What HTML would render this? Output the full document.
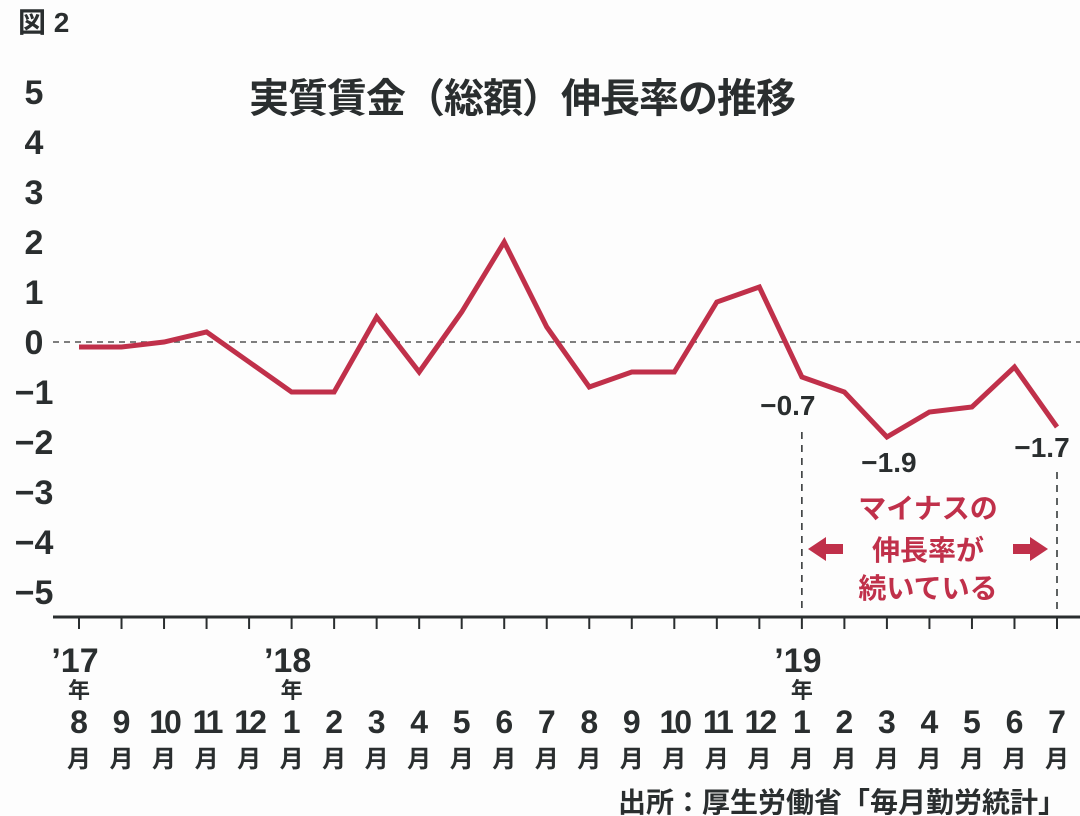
<!DOCTYPE html>
<html><head><meta charset="utf-8"><style>
html,body{margin:0;padding:0;background:#fdfdfd;}
svg{display:block;font-family:"Liberation Sans","Noto Sans CJK JP",sans-serif;font-weight:bold;}
</style></head><body>
<svg id="chart" width="1080" height="816" viewBox="0 0 1080 816">
<text x="18" y="32" font-size="28" fill="#2a2e2f">図 2</text>
<text x="522" y="112" font-size="40" fill="#2a2e2f" text-anchor="middle" letter-spacing="-1">実質賃金（総額）伸長率の推移</text>
<g id="yaxis"></g>
<line x1="53" y1="617" x2="1080" y2="617" stroke="#2a2e2f" stroke-width="3"/>
<line x1="53" y1="342" x2="1080" y2="342" stroke="#555" stroke-width="1.5" stroke-dasharray="6,5"/>
<g id="xaxis"></g>
<g id="marks"></g>
<g>
<text x="928" y="518" font-size="28" fill="#c0304a" text-anchor="middle">マイナスの</text>
<text x="928" y="560" font-size="28" fill="#c0304a" text-anchor="middle">伸長率が</text>
<text x="928" y="598" font-size="28" fill="#c0304a" text-anchor="middle">続いている</text>
<polygon points="808,549 826,537 826,544 843,544 843,554 826,554 826,561" fill="#c0304a"/>
<polygon points="1048,549 1030,537 1030,544 1013,544 1013,554 1030,554 1030,561" fill="#c0304a"/>
</g>
<text x="1066" y="812" font-size="28" fill="#2a2e2f" text-anchor="end">出所：厚生労働省「毎月勤労統計」</text>
</svg>
<script>
const months=["8","9","10","11","12","1","2","3","4","5","6","7","8","9","10","11","12","1","2","3","4","5","6","7"];
const yearLabels=[[0,"’17"],[5,"’18"],[17,"’19"]];
const values=[-0.1,-0.1,0.0,0.2,-0.4,-1.0,-1.0,0.5,-0.6,0.6,2.0,0.3,-0.9,-0.6,-0.6,0.8,1.1,-0.7,-1.0,-1.9,-1.4,-1.3,-0.5,-1.7];
const yTicks=[5,4,3,2,1,0,-1,-2,-3,-4,-5];
const labeled=[[17,"−0.7"],[19,"−1.9"],[23,"−1.7"]];
const NS="http://www.w3.org/2000/svg";
const x=i=>79+i*(1057-79)/23;
const y=v=>342-v*50;
function mk(tag,attrs,parent,text){const e=document.createElementNS(NS,tag);for(const k in attrs)e.setAttribute(k,attrs[k]);if(text!=null)e.textContent=text;parent.appendChild(e);return e;}
const ya=document.getElementById('yaxis'),xa=document.getElementById('xaxis'),mg=document.getElementById('marks');
yTicks.forEach(t=>{const e=mk('text',{x:34,y:y(t)+12,'font-size':34,fill:'#2a2e2f','text-anchor':'middle'},ya,t<0?'−'+(-t):String(t));

});
months.forEach((m,i)=>{const l=mk('line',{x1:x(i),y1:617,x2:x(i),y2:629,stroke:'#2a2e2f','stroke-width':2},xa);


const t=mk('text',{x:x(i),y:733,'font-size':32,fill:'#2a2e2f','text-anchor':'middle','letter-spacing':m.length>1?'-3':'0'},xa,m);


const u=mk('text',{x:x(i),y:767,'font-size':24,fill:'#2a2e2f','text-anchor':'middle'},xa,'月');

});
yearLabels.forEach(([i,s])=>{const t=mk('text',{x:x(i)-4,y:672,'font-size':34,fill:'#2a2e2f','text-anchor':'middle'},xa,s);


const n=mk('text',{x:x(i),y:698,'font-size':22,fill:'#2a2e2f','text-anchor':'middle'},xa,'年');

});
[[17,432],[23,472]].forEach(([i,top])=>{const d=mk('line',{x1:x(i),y1:top,x2:x(i),y2:612,stroke:'#2a2e2f','stroke-width':1.5,'stroke-dasharray':'7,6'},mg);

});
const p=mk('polyline',{points:values.map((v,i)=>x(i)+','+y(v)).join(' '),fill:'none',stroke:'#c0304a','stroke-width':5,'stroke-linejoin':'miter'},mg);


const offs={17:[-14,38],19:[2,35],23:[-15,30]};
labeled.forEach(([i,s])=>{const [dx,dy]=offs[i];
const t=mk('text',{x:x(i)+dx,y:y(values[i])+dy,'font-size':28,fill:'#2a2e2f','text-anchor':'middle'},mg,s);

});
</script>
</body></html>
